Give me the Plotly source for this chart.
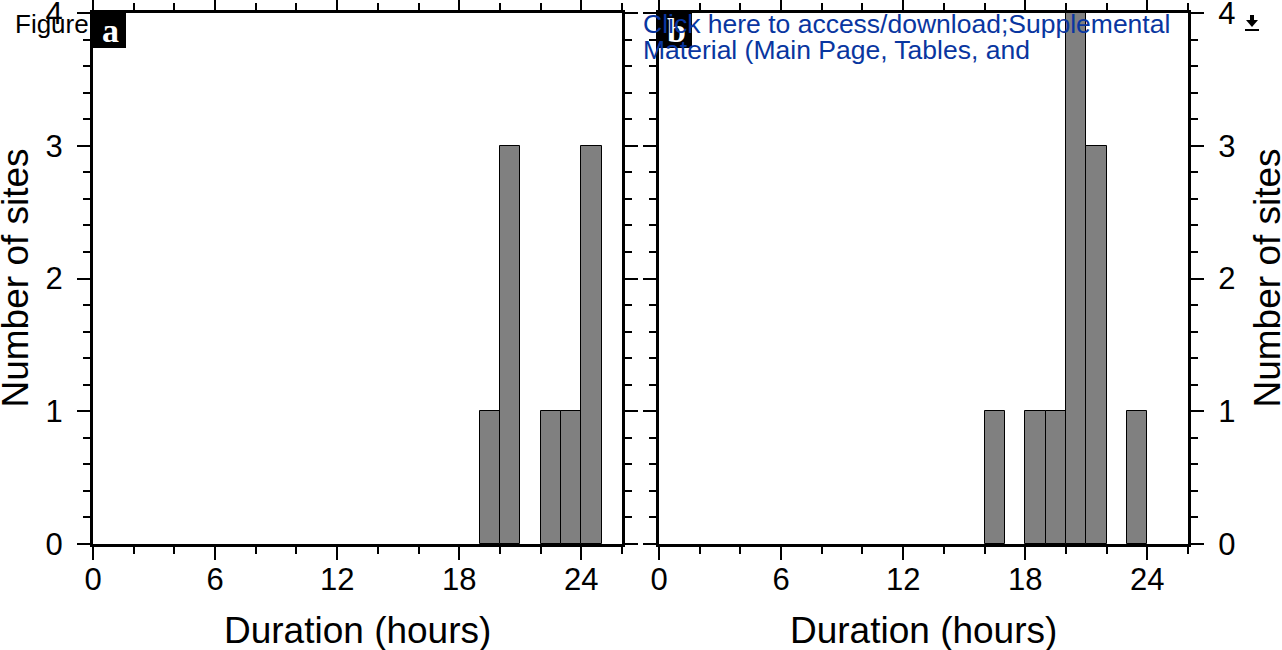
import plotly.graph_objects as go

# Histogram data (bin start hour, count), bin width = 1 hour
bins_a = [19, 20, 22, 23, 24]
counts_a = [1, 3, 1, 1, 3]
bins_b = [16, 18, 19, 20, 21, 23]
counts_b = [1, 1, 1, 4, 3, 1]
x_ticks = [0, 6, 12, 18, 24]
y_ticks = [0, 1, 2, 3, 4]
panel_labels = ["a", "b"]
x_title = "Duration (hours)"
y_title = "Number of sites"

W, H = 1282, 650
FONT = "Liberation Sans, Arial, Helvetica, sans-serif"

def px(x):
    return x / W

def py(y):
    return 1 - y / H

xa_dom = [px(93), px(622)]
xb_dom = [px(659), px(1188)]
y_dom = [py(544), py(13)]

fig = go.Figure()
bar_style = dict(marker=dict(color="#808080", line=dict(color="black", width=1)),
                 width=1, offset=0, showlegend=False, hoverinfo="skip")
fig.add_trace(go.Bar(x=bins_a, y=counts_a, xaxis="x", yaxis="y", **bar_style))
fig.add_trace(go.Bar(x=bins_b, y=counts_b, xaxis="x2", yaxis="y2", **bar_style))

def xaxis(dom, anchor):
    return dict(domain=dom, anchor=anchor, range=[0, 26], tickmode="array",
                tickvals=x_ticks, ticktext=[str(v) for v in x_ticks],
                ticks="outside", ticklen=13, tickwidth=1.5, tickcolor="black",
                minor=dict(dtick=2, tick0=0, ticks="outside", ticklen=7,
                           tickwidth=1.5, tickcolor="black"),
                showline=True, linewidth=3, linecolor="black", mirror="allticks",
                showgrid=False, zeroline=False, automargin=False,
                ticklabeloverflow="allow", ticklabelstandoff=-7,
                tickfont=dict(family=FONT, size=31, color="black"))

def yaxis(dom, anchor, side):
    return dict(domain=dom, anchor=anchor, range=[0, 4], side=side,
                tickmode="array", tickvals=y_ticks,
                ticktext=[str(v) for v in y_ticks],
                ticks="outside", ticklen=13, tickwidth=1.5, tickcolor="black",
                minor=dict(dtick=0.2, tick0=0, ticks="outside", ticklen=7,
                           tickwidth=1.5, tickcolor="black"),
                showline=True, linewidth=3, linecolor="black", mirror="allticks",
                showgrid=False, zeroline=False, automargin=False,
                ticklabeloverflow="allow", ticklabelstandoff=8,
                tickfont=dict(family=FONT, size=31, color="black"))

annotations = []
# axis titles
for dom in (xa_dom, xb_dom):
    annotations.append(dict(text=x_title, x=(dom[0] + dom[1]) / 2, y=py(630),
                            xref="paper", yref="paper", showarrow=False,
                            xanchor="center", yanchor="middle",
                            font=dict(family=FONT, size=37, color="black")))
for xc in (px(15), px(1267)):
    annotations.append(dict(text=y_title, x=xc, y=(y_dom[0] + y_dom[1]) / 2,
                            xref="paper", yref="paper", showarrow=False,
                            textangle=-90, xanchor="center", yanchor="middle",
                            font=dict(family=FONT, size=37, color="black")))
# panel labels
for lab, dom in zip(panel_labels, (xa_dom, xb_dom)):
    annotations.append(dict(text="<b>%s</b>" % lab, x=dom[0] + px(17), y=py(30),
                            xref="paper", yref="paper", showarrow=False,
                            xanchor="center", yanchor="middle",
                            font=dict(family="Liberation Serif, Times New Roman, serif",
                                      size=34, color="white")))
# overlay texts
annotations.append(dict(text="Figure", x=px(13), y=py(24), xref="paper", yref="paper",
                        showarrow=False, xanchor="left", yanchor="middle",
                        font=dict(family=FONT, size=26, color="black")))
annotations.append(dict(text="Click here to access/download;Supplemental",
                        x=px(641), y=py(24), xref="paper", yref="paper",
                        showarrow=False, xanchor="left", yanchor="middle",
                        font=dict(family=FONT, size=26.5, color="#0936a0")))
annotations.append(dict(text="Material (Main Page, Tables, and",
                        x=px(641), y=py(50), xref="paper", yref="paper",
                        showarrow=False, xanchor="left", yanchor="middle",
                        font=dict(family=FONT, size=26.5, color="#0936a0")))

shapes = []
for dom in (xa_dom, xb_dom):
    shapes.append(dict(type="rect", xref="paper", yref="paper",
                       x0=dom[0], x1=dom[0] + px(33), y0=py(48), y1=py(13),
                       fillcolor="black", line=dict(width=0), layer="above"))
# download icon
shapes.append(dict(type="path", xref="paper", yref="paper",
                   path="M %f %f L %f %f L %f %f Z" % (px(1246), py(20), px(1258), py(20), px(1252), py(27)),
                   fillcolor="black", line=dict(width=0)))
shapes.append(dict(type="rect", xref="paper", yref="paper",
                   x0=px(1250), x1=px(1254), y0=py(21), y1=py(15),
                   fillcolor="black", line=dict(width=0)))
shapes.append(dict(type="rect", xref="paper", yref="paper",
                   x0=px(1245), x1=px(1259), y0=py(31), y1=py(29),
                   fillcolor="black", line=dict(width=0)))

fig.update_layout(
    width=W, height=H, margin=dict(l=0, r=0, t=0, b=0),
    paper_bgcolor="white", plot_bgcolor="white",
    xaxis=xaxis(xa_dom, "y"), yaxis=yaxis(y_dom, "x", "left"),
    xaxis2=xaxis(xb_dom, "y2"), yaxis2=yaxis(y_dom, "x2", "right"),
    annotations=annotations, shapes=shapes, bargap=0,
)

fig.write_html("out.html", config={"displayModeBar": False},
               post_script="document.body.style.margin='0px';")
